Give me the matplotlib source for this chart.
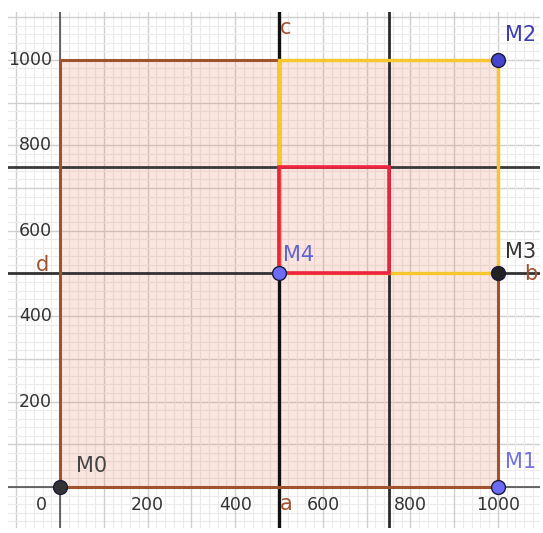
import matplotlib
matplotlib.use('Agg')
import matplotlib.pyplot as plt
from matplotlib.patches import Rectangle

plt.rcParams['font.family'] = ['DejaVu Sans']

# big square and sub squares (corner x, corner y, size)
big_sq = (0, 0, 1000)
yellow_sq = (500, 500, 500)
red_sq = (500, 500, 250)

# lines a/c (vertical) and b/d (horizontal)
v_lines = [500, 750]
h_lines = [500, 750]

# points
pt_names = ['M0', 'M1', 'M2', 'M3', 'M4']
pt_x = [0, 1000, 1000, 1000, 500]
pt_y = [0, 0, 1000, 500, 500]
pt_fill = ['#333333', '#6b6bf5', '#4545d0', '#222222', '#6b6bf5']
pt_lblcol = ['#444444', '#7272e0', '#3c3cb8', '#333333', '#6262d2']
# label offsets in data units
lbl_dx = [36, 15, 15, 15, 8]
lbl_dy = [26, 35, 35, 26, 20]

xticks = [0, 200, 400, 600, 800, 1000]
yticks = [200, 400, 600, 800, 1000]

fig = plt.figure(figsize=(5.43, 5.33), dpi=100)
ax = fig.add_axes([8 / 543, 1 - 528 / 533, 532 / 543, 516 / 533])
ax.set_xlim(-119, 1096)
ax.set_ylim(-96, 1112)
for s in ax.spines.values():
    s.set_visible(False)
ax.set_xticks([])
ax.set_yticks([])

# grid
for g in range(-100, 1101, 20):
    major = g % 100 == 0
    c = '#cfcfcf' if major else '#ebebeb'
    lw = 1.0 if major else 0.8
    ax.axvline(g, color=c, lw=lw, zorder=0)
    ax.axhline(g, color=c, lw=lw, zorder=0)

# axes
ax.axvline(0, color='#444444', lw=1.1, zorder=2)
ax.axhline(0, color='#444444', lw=1.1, zorder=2)

# filled square
ax.add_patch(Rectangle((big_sq[0], big_sq[1]), big_sq[2], big_sq[2],
                       facecolor='#e8825a', alpha=0.2, edgecolor='none', zorder=1))

# dark lines
ax.axvline(v_lines[0], color='#111111', lw=2.4, zorder=3)
ax.axvline(v_lines[1], color='#2a2a2a', lw=2.0, zorder=3)
ax.axhline(h_lines[0], color='#333333', lw=2.0, zorder=3)
ax.axhline(h_lines[1], color='#3a3a3a', lw=2.0, zorder=3)

# big square edges
ax.add_patch(Rectangle((big_sq[0], big_sq[1]), big_sq[2], big_sq[2],
                       fill=False, edgecolor='#a0522d', lw=2.2, zorder=4))
# yellow square
ax.add_patch(Rectangle((yellow_sq[0], yellow_sq[1]), yellow_sq[2], yellow_sq[2],
                       fill=False, edgecolor='#f6c72e', lw=2.4, zorder=5))
# red square
ax.add_patch(Rectangle((red_sq[0], red_sq[1]), red_sq[2], red_sq[2],
                       fill=False, edgecolor='#ee2340', lw=2.6, zorder=6))

# line labels
brown = '#a0522d'
ax.text(514, 1075, 'c', color=brown, fontsize=15, ha='center', va='center', zorder=9)
ax.text(516, -40, 'a', color=brown, fontsize=15, ha='center', va='center', zorder=9)
ax.text(-41, 520, 'd', color=brown, fontsize=15, ha='center', va='center', zorder=9)
ax.text(1074, 498, 'b', color=brown, fontsize=15, ha='center', va='center', zorder=7)

# points
for i in range(len(pt_names)):
    ax.plot(pt_x[i], pt_y[i], 'o', ms=10, mfc=pt_fill[i], mec='#1a1a3a', mew=1.0, zorder=8)
    ax.text(pt_x[i] + lbl_dx[i], pt_y[i] + lbl_dy[i], pt_names[i], color=pt_lblcol[i],
            fontsize=15, ha='left', va='bottom', zorder=9)

# tick labels
for t in xticks:
    xx = -43 if t == 0 else t
    ax.text(xx, -42, str(t), color='#333333', fontsize=12.5, ha='center', va='center',
            zorder=9)
for t in yticks:
    ax.text(-18, t, str(t), color='#333333', fontsize=12.5, ha='right', va='center',
            zorder=9)

fig.savefig('out.png', dpi=100, facecolor='white')
